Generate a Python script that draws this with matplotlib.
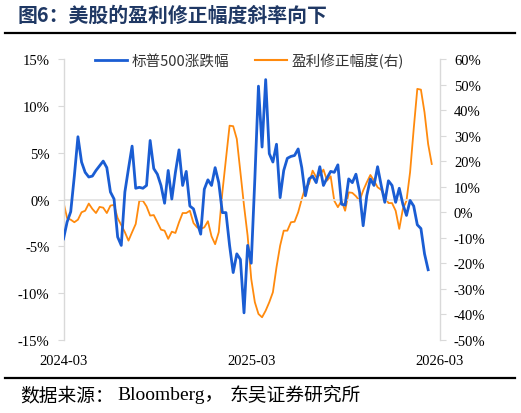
import matplotlib
matplotlib.use('Agg')
import matplotlib.pyplot as plt
from matplotlib.lines import Line2D
import numpy as np
import pandas as pd

plt.rcParams['font.family'] = ['Liberation Serif', 'Noto Sans CJK SC', 'DejaVu Sans']

# S&P 500 weekly change (%), left axis
spx_change = [-4.2, -2.4, -1.3, 2.5, 6.7, 4.0, 2.9, 2.4, 2.5, 3.1, 3.6, 4.1, 3.4, 0.8, 0.05,
              -4.0, -4.9, 0.8, 3.3, 5.7, 1.2, 1.3, 1.2, 1.5, 6.3, 3.3, 2.7, 1.5, -0.4, 3.1,
              0.05, 2.9, 5.3, 1.5, 3.0, -0.7,
              -1.0, -2.4, -3.7, 1.1, 2.1, 1.5, 3.4, 1.8, -1.4, -1.4, -4.9, -7.8, -5.8, -6.4,
              -12.1, -4.9, -6.8, 2.2, 12.1, 5.6, 12.8, 4.9, 4.0, 5.9, 0.2, 3.1, 4.4, 4.6,
              4.7, 5.4, 3.4, 0.4, 2.2, 2.5, 1.8,
              3.5, 1.5, 2.3, 3.0, 2.9, 3.7, -0.5, -0.6, 2.2, 1.8, 2.7, 0.8, -2.8, 0.4, 2.2,
              1.5, 3.5, 1.5, -0.3, 2.0, 1.5, -0.3, 1.2, -0.5, -1.7, -0.1, -0.7, -2.7, -3.1,
              -5.8, -7.5]

# earnings revision breadth (%), right axis
eps_revision = [3.9, -2.3, -2.9, -3.9, -2.9, 0.0, 0.6, 3.4, 1.3, -0.3, 2.1, 1.8, -0.3, 2.6,
                2.9, -2.3, -5.0, -7.8, -11.1, -7.8, -4.6, 4.5, 4.5, 2.3, -1.3, -1.1, -3.9,
                -6.8, -7.2, -10.4, -7.6, -8.1, -3.9, -0.3, -0.3,
                0.6, -4.2, -5.9, -6.5, -5.9, -3.5, -9.4, -12.5, -7.8, 7.8, 20.9, 33.9, 33.7,
                28.7, 15.7, 2.6, -9.2, -26.1, -35.2, -39.8, -41.1, -38.5, -35.2, -31.3,
                -21.5, -13.1, -7.2, -7.2, -3.9, -3.7, 0.0, 5.2,
                9.8, 11.1, 16.3, 13.7, 14.6, 16.7, 12.4, 14.1, 4.5, 2.0, 4.5, 0.6, 7.8, 7.6,
                6.3, 4.5, 8.5, 11.7, 14.6, 12.4, 9.8, 8.8, 6.3, 3.6, 3.6, 0.6, -6.5, 1.3,
                4.5, 15.7, 32.6, 48.3, 48.0, 39.1, 26.7, 18.9]

spx_dates = pd.date_range('2024-03-01', periods=len(spx_change), freq='7D')
eps_dates = pd.date_range('2024-03-01', periods=len(eps_revision), freq='7D')

x_ticks = pd.to_datetime(['2024-03-01', '2025-03-01', '2026-03-01'])
x_labels = ['2024-03', '2025-03', '2026-03']
left_ticks = np.arange(-15, 16, 5)
right_ticks = np.arange(-50, 61, 10)

blue = '#1a5dd3'
orange = '#ff8a0d'
spine_gray = '#d9d9d9'

fig = plt.figure(figsize=(5.21, 4.14), dpi=100)
ax1 = fig.add_axes([63.5 / 521, 1 - 341 / 414, (440 - 63.5) / 521, 281 / 414])
ax2 = ax1.twinx()

ax1.axhline(0, color='#e3e3e3', lw=1.3, zorder=0)
ax1.plot(spx_dates, spx_change, color=blue, lw=2.0, zorder=3)
ax2.plot(eps_dates, eps_revision, color=orange, lw=1.3, zorder=2)
ax1.set_zorder(ax2.get_zorder() + 1)
ax1.patch.set_visible(False)

ax1.set_xlim(x_ticks[0], x_ticks[-1])
ax1.set_ylim(-15, 15)
ax2.set_ylim(-50, 60)
ax1.set_xticks(x_ticks)
ax1.set_xticklabels(x_labels)
ax1.set_yticks(left_ticks)
ax1.set_yticklabels([f'{v}%' for v in left_ticks])
ax2.set_yticks(right_ticks)
ax2.set_yticklabels([f'{v}%' for v in right_ticks])

for ax in (ax1, ax2):
    for s in ('top', 'bottom'):
        ax.spines[s].set_visible(False)
    for s in ('left', 'right'):
        ax.spines[s].set_color(spine_gray)
        ax.spines[s].set_linewidth(1.0)
ax1.spines['right'].set_visible(False)
ax2.spines['left'].set_visible(False)

ax1.tick_params(axis='x', length=0, pad=10, labelsize=10.5)
ax1.tick_params(axis='y', length=4, color=spine_gray, pad=6, labelsize=10.5)
ax2.tick_params(axis='y', length=4, color=spine_gray, pad=6, labelsize=10.5)

handles = [Line2D([], [], color=blue, lw=2.0), Line2D([], [], color=orange, lw=1.5)]
leg = ax1.legend(handles, ['标普500涨跌幅', '盈利修正幅度(右)'], ncol=2, frameon=False,
                 loc='center', bbox_to_anchor=(0.494, 0.994),
                 handlelength=2.2, handletextpad=0.3, columnspacing=1.8,
                 prop={'family': ['Noto Sans CJK SC'], 'size': 10.5})
for t in leg.get_texts():
    t.set_color('#333333')

fig.text(18 / 521, 1 - 15 / 414, '图6：美股的盈利修正幅度斜率向下', ha='left', va='center',
         fontsize=14.3, fontweight='bold', color='#1f3864',
         family=['Noto Sans CJK SC'])
fig.add_artist(Line2D([5 / 521, 515 / 521], [1 - 33.5 / 414, 1 - 33.5 / 414],
                      color='black', lw=1.6))
fig.add_artist(Line2D([5 / 521, 515 / 521], [1 - 379 / 414, 1 - 379 / 414],
                      color='black', lw=1.6))
fig.text(20 / 521, 1 - 396 / 414, '数据来源：', ha='left', va='center', fontsize=13.5,
         family=['Noto Sans CJK SC'])
fig.text(117 / 521, 1 - 396 / 414, 'Bloomberg，', ha='left', va='center', fontsize=14,
         family=['Liberation Serif', 'Noto Sans CJK SC'])
fig.text(230 / 521, 1 - 396 / 414, '东吴证券研究所', ha='left', va='center', fontsize=13.5,
         family=['Noto Sans CJK SC'])

fig.savefig('out.png', dpi=100)
